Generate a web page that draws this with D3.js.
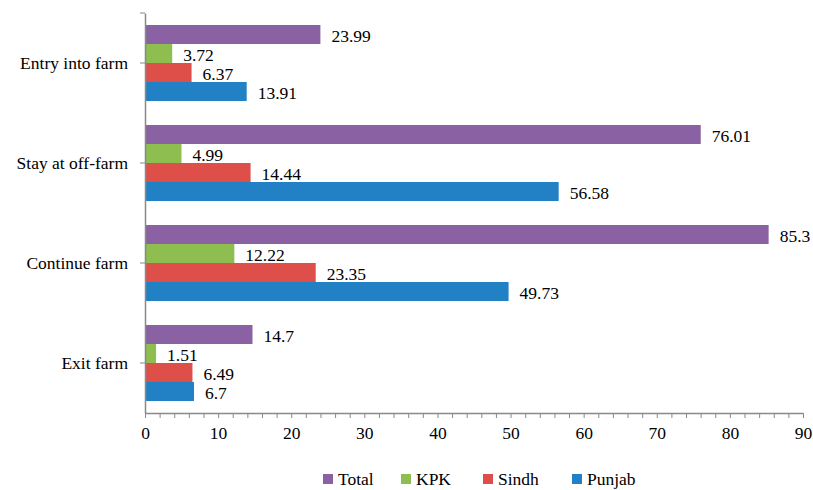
<!DOCTYPE html>
<html>
<head>
<meta charset="utf-8">
<script src="https://cdn.jsdelivr.net/npm/d3@7"></script>
<style>
  html, body { margin: 0; padding: 0; background: #fff; }
  svg { display: block; }
</style>
</head>
<body>
<svg id="chart" width="813" height="490"></svg>
<script>
const categories = ["Entry into farm", "Stay at off-farm", "Continue farm", "Exit farm"];
const seriesNames = ["Total", "KPK", "Sindh", "Punjab"];
const totalValues = [23.99, 76.01, 85.3, 14.7];
const kpkValues = [3.72, 4.99, 12.22, 1.51];
const sindhValues = [6.37, 14.44, 23.35, 6.49];
const punjabValues = [13.91, 56.58, 49.73, 6.7];
const valueLabels = {
  Total: ["23.99", "76.01", "85.3", "14.7"],
  KPK: ["3.72", "4.99", "12.22", "1.51"],
  Sindh: ["6.37", "14.44", "23.35", "6.49"],
  Punjab: ["13.91", "56.58", "49.73", "6.7"]
};
const xTickLabels = [0, 10, 20, 30, 40, 50, 60, 70, 80, 90];
const colors = { Total: "#8A62A4", KPK: "#8DBE4F", Sindh: "#DE4F4A", Punjab: "#2281C4" };

const seriesValues = { Total: totalValues, KPK: kpkValues, Sindh: sindhValues, Punjab: punjabValues };

(function () {
const FONT = "'Liberation Serif', 'Times New Roman', 'DejaVu Serif', serif";
const FS = "17.5px";
const svg = d3.select("#chart");
const pLeft = 145, pRight = 803, pTop = 13, pBottom = 413;
const axisColor = "#898989";

const x = d3.scaleLinear().domain([0, 90]).range([pLeft, pRight]);
const y = d3.scaleBand().domain(categories).range([pTop, pBottom]).padding(0);
const yInner = d3.scaleBand().domain(seriesNames).range([12, 88]).padding(0);

const rows = [];
categories.forEach((c, i) => {
  seriesNames.forEach(s => {
    rows.push({ cat: c, series: s, value: seriesValues[s][i], label: valueLabels[s][i] });
  });
});

svg.append("g").selectAll("rect").data(rows).join("rect")
  .attr("x", x(0))
  .attr("y", d => y(d.cat) + yInner(d.series))
  .attr("width", d => x(d.value) - x(0))
  .attr("height", yInner.bandwidth())
  .attr("fill", d => colors[d.series]);

svg.append("g").selectAll("text").data(rows).join("text")
  .attr("x", d => x(d.value) + 11)
  .attr("y", d => y(d.cat) + yInner(d.series) + yInner.bandwidth() / 2 + 1)
  .attr("dominant-baseline", "central")
  .style("font-family", FONT)
  .style("font-size", FS)
  .attr("fill", "#000")
  .text(d => d.label);

const xAxis = d3.axisBottom(x)
  .tickValues(d3.range(0, 91, 2))
  .tickSize(5)
  .tickPadding(9)
  .tickFormat(d => xTickLabels.includes(d) ? String(d) : "");
const gx = svg.append("g").attr("transform", `translate(0,${pBottom})`).call(xAxis);
gx.select(".domain").attr("stroke", axisColor).attr("stroke-width", 1.5).attr("d", `M${pLeft},0.5H${pRight}`);
gx.selectAll(".tick line").attr("stroke", axisColor).attr("stroke-width", 1);
gx.selectAll(".tick text").style("font-family", FONT).style("font-size", FS).attr("fill", "#000");

const yAxis = d3.axisLeft(y).tickSize(5).tickPadding(12).tickSizeOuter(0);
const gy = svg.append("g").attr("transform", `translate(${pLeft},0)`).call(yAxis);
gy.select(".domain").attr("stroke", axisColor).attr("stroke-width", 1.5);
gy.selectAll(".tick line").attr("stroke", axisColor);
gy.selectAll(".tick text").style("font-family", FONT).style("font-size", FS).attr("fill", "#000");
gy.append("line").attr("x1", -5).attr("x2", 0).attr("y1", pTop).attr("y2", pTop).attr("stroke", axisColor);

const legendItems = [
  { name: "Total", sx: 323 },
  { name: "KPK", sx: 401 },
  { name: "Sindh", sx: 483 },
  { name: "Punjab", sx: 572 }
];
const lg = svg.append("g");
legendItems.forEach(it => {
  lg.append("rect").attr("x", it.sx).attr("y", 474).attr("width", 10).attr("height", 10).attr("fill", colors[it.name]);
  lg.append("text").attr("x", it.sx + 15).attr("y", 479).attr("dominant-baseline", "central")
    .style("font-family", FONT).style("font-size", FS).attr("fill", "#000").text(it.name);
});
})();
</script>
</body>
</html>
